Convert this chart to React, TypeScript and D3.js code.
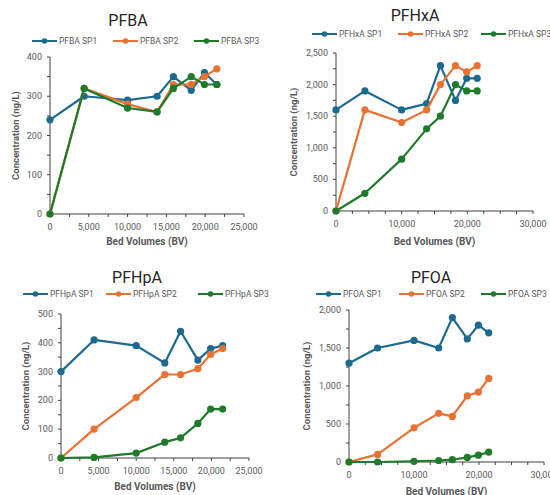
import React from "react";
import * as d3 from "d3";

const bedVolumes = [0, 4400, 10000, 13800, 15900, 18200, 19900, 21500];

const pfbaSP1 = [240, 300, 290, 300, 350, 315, 360, 330];
const pfbaSP2 = [0, 320, 280, 260, 330, 330, 350, 370];
const pfbaSP3 = [0, 320, 270, 260, 320, 350, 330, 330];

const pfhxaSP1 = [1600, 1900, 1600, 1700, 2300, 1750, 2100, 2100];
const pfhxaSP2 = [0, 1600, 1400, 1600, 2000, 2300, 2200, 2300];
const pfhxaSP3 = [0, 280, 820, 1300, 1500, 2000, 1900, 1900];

const pfhpaSP1 = [300, 410, 390, 330, 440, 340, 380, 390];
const pfhpaSP2 = [0, 100, 210, 290, 290, 310, 360, 380];
const pfhpaSP3 = [0, 2, 17, 55, 70, 120, 170, 170];

const pfoaSP1 = [1300, 1500, 1600, 1500, 1900, 1620, 1800, 1700];
const pfoaSP2 = [0, 100, 450, 640, 600, 870, 920, 1100];
const pfoaSP3 = [0, 0, 10, 20, 30, 60, 90, 130];

const seriesNames = ["SP1", "SP2", "SP3"];
const colors = ["#1d6a8e", "#e97132", "#1f7a2c"];

type Panel = {
  title: string;
  series: number[][];
  xMax: number;
  xStep: number;
  yMax: number;
  yStep: number;
  box: [number, number, number, number]; // left, top, right, bottom
  titlePos: [number, number];
  legendY: number;
  legendX: number[];
  yLabelX: number;
  xLabelY: number;
};

const panels: Panel[] = [
  {
    title: "PFBA",
    series: [pfbaSP1, pfbaSP2, pfbaSP3],
    xMax: 25000, xStep: 5000, yMax: 400, yStep: 100,
    box: [50, 57, 244, 214],
    titlePos: [128, 20],
    legendY: 41,
    legendX: [32, 113, 194],
    yLabelX: 15,
    xLabelY: 241,
  },
  {
    title: "PFHxA",
    series: [pfhxaSP1, pfhxaSP2, pfhxaSP3],
    xMax: 30000, xStep: 10000, yMax: 2500, yStep: 500,
    box: [336, 53, 533, 211],
    titlePos: [415, 15],
    legendY: 34,
    legendX: [312, 398, 481],
    yLabelX: 293,
    xLabelY: 241,
  },
  {
    title: "PFHpA",
    series: [pfhpaSP1, pfhpaSP2, pfhpaSP3],
    xMax: 25000, xStep: 5000, yMax: 500, yStep: 100,
    box: [61, 314, 249, 458],
    titlePos: [137, 277],
    legendY: 294,
    legendX: [23, 106, 198],
    yLabelX: 25,
    xLabelY: 486,
  },
  {
    title: "PFOA",
    series: [pfoaSP1, pfoaSP2, pfoaSP3],
    xMax: 30000, xStep: 10000, yMax: 2000, yStep: 500,
    box: [349, 310, 544, 462],
    titlePos: [431, 277],
    legendY: 294,
    legendX: [316, 399, 481],
    yLabelX: 306,
    xLabelY: 491,
  },
];

const FONT = "Roboto, 'Noto Sans', Arial, sans-serif";
const TXT = "#595959";
const fmt = d3.format(",");

function ChartPanel({ p }: { p: Panel }) {
  const [l, t, r, b] = p.box;
  const x = d3.scaleLinear().domain([0, p.xMax]).range([l, r]);
  const y = d3.scaleLinear().domain([0, p.yMax]).range([b, t]);
  const xMajor = d3.range(0, p.xMax + 1, p.xStep);
  const xMinor = d3.range(0, p.xMax + 1, 2500);
  const yMajor = d3.range(0, p.yMax + 1, p.yStep);
  const yMinor = d3.range(0, p.yMax + 1, p.yStep / 2);
  const line = d3
    .line<number>()
    .x((_, i) => x(bedVolumes[i]))
    .y((v) => y(v));
  const prefix = p.title;
  return (
    <g fontFamily={FONT}>
      <text x={p.titlePos[0]} y={p.titlePos[1]} textAnchor="middle" dominantBaseline="central" fontSize={16} fill="#262626">
        {p.title}
      </text>
      {seriesNames.map((s, i) => (
        <g key={s}>
          <line x1={p.legendX[i]} x2={p.legendX[i] + 25} y1={p.legendY} y2={p.legendY} stroke={colors[i]} strokeWidth={2} />
          <circle cx={p.legendX[i] + 12.5} cy={p.legendY} r={2.8} fill={colors[i]} />
          <text x={p.legendX[i] + 27} y={p.legendY} dominantBaseline="central" fontSize={8.5} fill={TXT}>
            {`${prefix} ${s}`}
          </text>
        </g>
      ))}
      {/* axes */}
      <line x1={l} x2={l} y1={t} y2={b} stroke="#404040" strokeWidth={1} />
      <line x1={l} x2={r} y1={b} y2={b} stroke="#404040" strokeWidth={1} />
      {xMinor.map((v) => (
        <line key={"xm" + v} x1={x(v)} x2={x(v)} y1={b} y2={b + 3} stroke="#404040" strokeWidth={1} />
      ))}
      {yMinor.map((v) => (
        <line key={"ym" + v} x1={l - 3} x2={l} y1={y(v)} y2={y(v)} stroke="#404040" strokeWidth={1} />
      ))}
      {xMajor.map((v) => (
        <text key={"xt" + v} x={x(v)} y={b + 13} textAnchor="middle" dominantBaseline="central" fontSize={9} fill={TXT}>
          {fmt(v)}
        </text>
      ))}
      {yMajor.map((v) => (
        <text key={"yt" + v} x={l - 8} y={y(v)} textAnchor="end" dominantBaseline="central" fontSize={9} fill={TXT}>
          {fmt(v)}
        </text>
      ))}
      <text x={(l + r) / 2} y={p.xLabelY} textAnchor="middle" dominantBaseline="central" fontSize={10} fontWeight="bold" fill={TXT}>
        Bed Volumes (BV)
      </text>
      <text
        transform={`translate(${p.yLabelX},${(t + b) / 2}) rotate(-90)`}
        textAnchor="middle"
        dominantBaseline="central"
        fontSize={9.5}
        fontWeight="bold"
        fill={TXT}
      >
        Concentration (ng/L)
      </text>
      {p.series.map((vals, i) => (
        <g key={"s" + i}>
          <path d={line(vals) || ""} fill="none" stroke={colors[i]} strokeWidth={2.2} strokeLinejoin="round" />
          {vals.map((v, j) => (
            <circle key={j} cx={x(bedVolumes[j])} cy={y(v)} r={3.6} fill={colors[i]} />
          ))}
        </g>
      ))}
    </g>
  );
}

export default function App() {
  return (
    <div style={{ position: "fixed", left: 0, top: 0, width: 550, height: 495, background: "#fff" }}>
      <svg width={550} height={495} style={{ display: "block" }}>
        <rect width={550} height={495} fill="#fff" />
        {panels.map((p) => (
          <ChartPanel key={p.title} p={p} />
        ))}
      </svg>
    </div>
  );
}
